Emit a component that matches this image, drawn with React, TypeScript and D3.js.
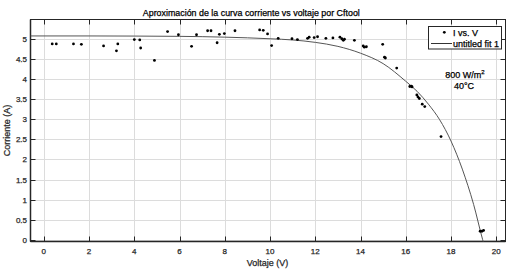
import React from "react";
import * as d3 from "d3";

const voltage = [0.37,0.55,1.31,1.66,2.64,3.21,3.27,4.0,4.24,4.28,4.89,5.47,5.95,6.53,6.75,7.24,7.39,7.66,7.76,7.98,8.45,9.54,9.70,9.89,10.07,10.36,10.97,11.21,11.66,11.73,11.95,12.10,12.47,12.78,13.09,13.17,13.24,13.29,13.73,14.12,14.17,14.26,14.98,15.06,15.10,15.60,16.18,16.25,16.28,16.49,16.54,16.60,16.73,16.84,17.56,19.29,19.37,19.44];
const current = [4.88,4.88,4.88,4.87,4.83,4.71,4.88,4.99,4.98,4.78,4.47,5.19,5.11,4.82,5.11,5.21,5.21,4.91,5.12,5.14,5.21,5.23,5.22,5.13,4.84,5.02,5.01,4.99,5.02,5.05,5.04,5.06,5.02,5.03,5.05,5.01,4.97,5.0,4.97,4.83,4.80,4.81,4.87,4.55,4.53,4.28,3.82,3.83,3.81,3.61,3.56,3.52,3.38,3.32,2.57,0.21,0.21,0.23];

const fitV = [-0.6, 2, 4, 6, 8, 10, 11, 12, 13, 14, 15, 16, 16.5, 17, 17.5, 18, 18.5, 19, 19.4, 19.45];
const fitI = [5.08, 5.08, 5.077, 5.07, 5.05, 5.01, 4.98, 4.92, 4.82, 4.65, 4.39, 3.95, 3.70, 3.38, 2.99, 2.46, 1.76, 0.88, 0.0, -0.1];

const xTicks = [0, 2, 4, 6, 8, 10, 12, 14, 16, 18, 20];
const yTicks = [0, 0.5, 1, 1.5, 2, 2.5, 3, 3.5, 4, 4.5, 5];

const titleText = "Aproximación de la curva corriente vs voltaje por Cftool";
const xLabel = "Voltaje (V)";
const yLabel = "Corriente (A)";
const legendLabels = ["I vs. V", "untitled fit 1"];

const W = 524, H = 272;
const L = 30.5, R = 505.5, T = 19.5, B = 241.5;
const FONT = "'Liberation Sans', Arial, sans-serif";

export default function App() {
  const x = d3.scaleLinear().domain([-0.59, 20.41]).range([L, R]);
  const y = d3.scaleLinear().domain([-0.045, 5.49]).range([B, T]);
  const fitData = fitV.map((v, i) => [v, fitI[i]] as [number, number]);
  const line = d3.line<[number, number]>().x(d => x(d[0])).y(d => y(d[1])).curve(d3.curveMonotoneX);
  const tl = 5;
  const heavy = { stroke: "currentColor", strokeWidth: 0.25 } as const;
  return (
    <svg width={W} height={H} style={{ position: "absolute", left: 0, top: 0, background: "#fff" }} fontFamily={FONT}>
      <defs>
        <clipPath id="plotclip"><rect x={L} y={T} width={R - L} height={B - T} /></clipPath>
      </defs>
      <rect x={0} y={0} width={W} height={H} fill="#fff" />
      {/* grid */}
      {xTicks.map(t => (
        <line key={"gx" + t} x1={Math.round(x(t)) + 0.5} x2={Math.round(x(t)) + 0.5} y1={T} y2={B} stroke="#dcdcdc" strokeWidth={1} />
      ))}
      {yTicks.map(t => (
        <line key={"gy" + t} x1={L} x2={R} y1={Math.round(y(t)) + 0.5} y2={Math.round(y(t)) + 0.5} stroke="#dcdcdc" strokeWidth={1} />
      ))}
      {/* ticks */}
      <g color="#262626">
        {xTicks.map(t => (
          <g key={"tx" + t}>
            <line x1={Math.round(x(t)) + 0.5} x2={Math.round(x(t)) + 0.5} y1={B} y2={B - tl} stroke="#262626" />
            <line x1={Math.round(x(t)) + 0.5} x2={Math.round(x(t)) + 0.5} y1={T} y2={T + tl} stroke="#262626" />
            <text x={x(t)} y={254} textAnchor="middle" fontSize={8} fill="#262626" {...heavy}>{t}</text>
          </g>
        ))}
        {yTicks.map(t => (
          <g key={"ty" + t}>
            <line x1={L} x2={L + tl} y1={Math.round(y(t)) + 0.5} y2={Math.round(y(t)) + 0.5} stroke="#262626" />
            <line x1={R} x2={R - tl} y1={Math.round(y(t)) + 0.5} y2={Math.round(y(t)) + 0.5} stroke="#262626" />
            <text x={27} y={y(t) + 3} textAnchor="end" fontSize={8} fill="#262626" {...heavy}>{t}</text>
          </g>
        ))}
      </g>
      {/* box */}
      <rect x={L} y={T} width={R - L} height={B - T} fill="none" stroke="#262626" strokeWidth={1} />
      <line x1={L} x2={L} y1={T} y2={B} stroke="#262626" strokeWidth={1.5} />
      <line x1={L} x2={R} y1={B} y2={B} stroke="#262626" strokeWidth={1.5} />
      {/* fit */}
      <g clipPath="url(#plotclip)">
        <path d={line(fitData) || ""} fill="none" stroke="#555" strokeWidth={1} />
        {voltage.map((v, i) => (
          <circle key={"p" + i} cx={x(v)} cy={y(current[i])} r={1.4} fill="#000" />
        ))}
      </g>
      {/* legend */}
      <g color="#000">
        <rect x={428.5} y={26.5} width={73} height={22.5} fill="#fff" stroke="#262626" strokeWidth={1} />
        <circle cx={444.3} cy={32.3} r={1.4} fill="#000" />
        <text x={453} y={35.5} fontSize={9} fill="#000" {...heavy}>{legendLabels[0]}</text>
        <line x1={431} x2={452} y1={43.5} y2={43.5} stroke="#333" strokeWidth={1} />
        <text x={453} y={47} fontSize={9} fill="#000" {...heavy}>{legendLabels[1]}</text>
        {/* annotation */}
        <text x={465} y={78} textAnchor="middle" fontSize={9} fill="#000" {...heavy}>800 W/m<tspan dy={-4} fontSize={6}>2</tspan></text>
        <text x={464} y={89} textAnchor="middle" fontSize={9} fill="#000" {...heavy}>40°C</text>
        {/* labels */}
        <text x={251.3} y={15.5} textAnchor="middle" fontSize={9} fill="#000" textLength={217} lengthAdjust="spacingAndGlyphs" {...heavy}>{titleText}</text>
      </g>
      <g color="#262626">
        <text x={267.5} y={266} textAnchor="middle" fontSize={9} fill="#262626" {...heavy}>{xLabel}</text>
        <text transform={`translate(10,${(T + B) / 2}) rotate(-90)`} textAnchor="middle" fontSize={9} fill="#262626" {...heavy}>{yLabel}</text>
      </g>
    </svg>
  );
}
